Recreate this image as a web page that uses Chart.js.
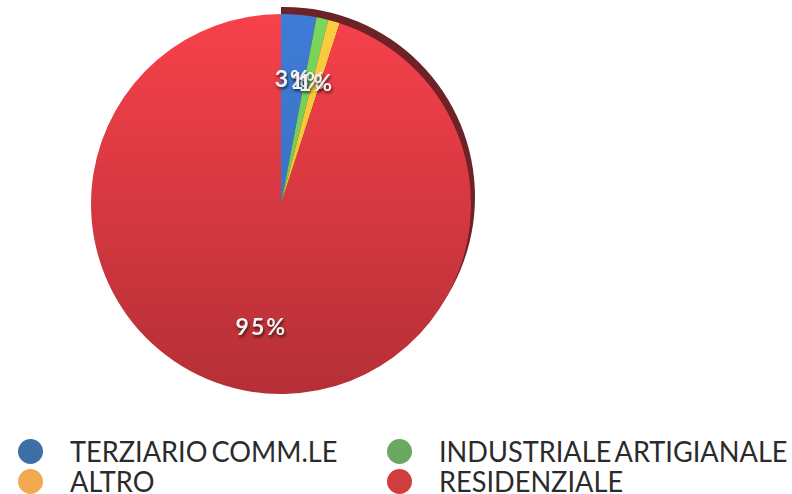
<!DOCTYPE html>
<html>
<head>
<meta charset="utf-8">
<script src="https://cdn.jsdelivr.net/npm/chart.js@4.4.1/dist/chart.umd.min.js"></script>
<style>
  html, body { margin: 0; padding: 0; background: #fff; }
  #wrap { position: relative; width: 792px; height: 494px; overflow: hidden; }
  #pieCanvas { position: absolute; left: 0; top: 0; }
  #legend {
    position: absolute; left: 18px; top: 436px;
    display: grid; grid-template-columns: 369px auto; grid-auto-rows: 30px;
    font-family: Lato, "Open Sans", sans-serif; font-size: 28px; color: #2b2b2b;
    word-spacing: -3px;
  }
  .item { display: flex; align-items: center; white-space: nowrap; }
  .dot { width: 25px; height: 25px; border-radius: 50%; margin-right: 27px; flex: none; }
  .lbl { display: inline-block; transform: scaleX(0.97); transform-origin: left center; }
</style>
</head>
<body>
<div id="wrap">
  <canvas id="pieCanvas" width="792" height="420"></canvas>
  <div id="legend"></div>
</div>
<script>
const $ = (id) => document.getElementById(id);

// data
const categories = ["TERZIARIO COMM.LE", "INDUSTRIALE ARTIGIANALE", "ALTRO", "RESIDENZIALE"];
const values = [3, 1, 1, 95];
const valueLabels = ["3%", "1%", "1%", "95%"];

// slice colours (top, bottom of the vertical gradient) and legend colours
const sliceTop = ["#3f7cd6", "#7ad85c", "#fbcd40", "#f7414b"];
const sliceBottom = ["#356ab8", "#64bb4c", "#e9b434", "#b52f36"];
const legendColors = ["#3d6fa6", "#6aa862", "#f2a94f", "#cf3d3f"];

function sliceColor(ctx) {
  const chart = ctx.chart;
  const area = chart.chartArea;
  const i = ctx.dataIndex;
  if (!area) return sliceTop[i];
  const g = chart.ctx.createLinearGradient(0, area.top, 0, area.bottom);
  g.addColorStop(0, sliceTop[i]);
  g.addColorStop(1, sliceBottom[i]);
  return g;
}

// dark rim on the upper right, like the 3D edge in the picture
const rimPlugin = {
  id: "rim",
  beforeDatasetsDraw(chart) {
    const arc = chart.getDatasetMeta(0).data[0];
    if (!arc) return;
    const c = chart.ctx;
    c.save();
    c.beginPath();
    c.rect(arc.x, 0, chart.width - arc.x, chart.height);
    c.clip();
    c.fillStyle = "#6c2226";
    c.beginPath();
    c.arc(arc.x + 4, arc.y - 7, arc.outerRadius, 0, Math.PI * 2);
    c.fill();
    c.restore();
  }
};

// percent labels inside the slices
const labelPlugin = {
  id: "sliceLabels",
  afterDatasetsDraw(chart) {
    const meta = chart.getDatasetMeta(0);
    const c = chart.ctx;
    c.save();
    c.font = "bold 23px Lato, 'Open Sans', sans-serif";
    c.textAlign = "center";
    c.textBaseline = "middle";
    if ("letterSpacing" in c) c.letterSpacing = "2px";
    c.shadowColor = "rgba(0,0,0,0.65)";
    c.shadowBlur = 3;
    c.shadowOffsetX = 1;
    c.shadowOffsetY = 2;
    c.fillStyle = "#f4f4f4";
    meta.data.forEach((arc, i) => {
      const mid = (arc.startAngle + arc.endAngle) / 2;
      const r = arc.outerRadius * 0.66;
      c.fillText(valueLabels[i], arc.x + Math.cos(mid) * r, arc.y + Math.sin(mid) * r);
    });
    c.restore();
  }
};

function buildLegend() {
  const box = $("legend");
  categories.forEach((name, i) => {
    const item = document.createElement("div");
    item.className = "item";
    const dot = document.createElement("span");
    dot.className = "dot";
    dot.style.background = legendColors[i];
    const lbl = document.createElement("span");
    lbl.className = "lbl";
    lbl.textContent = name;
    item.appendChild(dot);
    item.appendChild(lbl);
    box.appendChild(item);
  });
}

function init() {
  buildLegend();
  new Chart($("pieCanvas").getContext("2d"), {
    type: "pie",
    data: {
      labels: categories,
      datasets: [{
        data: values,
        backgroundColor: sliceColor,
        borderWidth: 0,
        hoverOffset: 0
      }]
    },
    options: {
      responsive: false,
      animation: false,
      layout: { padding: { left: 91, right: 321, top: 14, bottom: 26 } },
      plugins: {
        legend: { display: false },
        tooltip: { enabled: false }
      }
    },
    plugins: [rimPlugin, labelPlugin]
  });
}

document.addEventListener("DOMContentLoaded", init);
</script>
</body>
</html>
